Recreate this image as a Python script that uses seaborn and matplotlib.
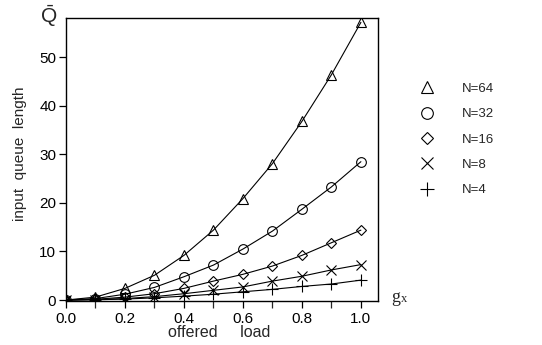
import numpy as np
import pandas as pd
import matplotlib
matplotlib.use("Agg")
import matplotlib.pyplot as plt
from matplotlib.lines import Line2D
import seaborn as sns

# offered load g_x and input queue length per switch size N
load = [0.0, 0.1, 0.2, 0.3, 0.4, 0.5, 0.6, 0.7, 0.8, 0.9, 1.0]
q_n64 = [0.0, 0.6, 2.4, 5.1, 9.2, 14.4, 20.9, 28.1, 36.8, 46.4, 57.2]
q_n32 = [0.0, 0.3, 1.2, 2.6, 4.8, 7.2, 10.5, 14.2, 18.7, 23.3, 28.5]
q_n16 = [0.0, 0.15, 0.6, 1.3, 2.4, 3.9, 5.3, 7.0, 9.2, 11.8, 14.4]
q_n8 = [0.0, 0.1, 0.3, 0.7, 1.3, 2.0, 2.7, 3.9, 4.9, 6.2, 7.3]
q_n4 = [0.0, 0.05, 0.2, 0.45, 0.8, 1.2, 1.7, 2.2, 2.8, 3.3, 4.1]

labels = ["N=64", "N=32", "N=16", "N=8", "N=4"]
series = [q_n64, q_n32, q_n16, q_n8, q_n4]
markers = ["^", "o", "D", "x", "+"]
msizes = [7, 7, 5.5, 7.5, 8]

sns.set_style("ticks")
plt.rcParams["font.family"] = ["Liberation Sans", "DejaVu Sans"]
plt.rcParams["mathtext.fontset"] = "custom"
plt.rcParams["mathtext.rm"] = "Liberation Sans"

fig = plt.figure(figsize=(5.42, 3.45), dpi=100)
ax = fig.add_axes([66 / 542, 1 - 301 / 345, 312 / 542, 283 / 345])

for vals, m, ms in zip(series, markers, msizes):
    sns.lineplot(x=load, y=vals, ax=ax, color="black", linewidth=0.8,
                 marker=m, markersize=ms, markerfacecolor="none",
                 markeredgecolor="black", markeredgewidth=0.8)

ax.set_xlim(0, 1.058)
ax.set_ylim(-0.2, 58.1)
ax.set_xticks([0.0, 0.2, 0.4, 0.6, 0.8, 1.0])
ax.set_xticklabels(["0.0", "0.2", "0.4", "0.6", "0.8", "1.0"])
ax.set_xticks(np.arange(0.1, 1.0, 0.2), minor=True)
ax.set_yticks([0, 10, 20, 30, 40, 50])
ax.tick_params(axis="both", which="major", direction="out", length=5,
               width=0.9, labelsize=11, color="black", labelcolor="black")
ax.tick_params(axis="x", which="minor", direction="out", length=5, width=0.9)
ax.tick_params(axis="y", pad=2)
ax.tick_params(axis="x", pad=3)
for s in ax.spines.values():
    s.set_visible(True)
    s.set_linewidth(1.0)
    s.set_color("black")

ax.set_ylabel("input  queue  length", fontsize=11)
ax.yaxis.set_label_coords(-0.125, 0.52)
ax.set_xlabel("offered     load", fontsize=11.5)
ax.xaxis.set_label_coords(0.49, -0.085)

fig.text(49 / 542, 1 - 16 / 345, r"$\bar{\mathrm{Q}}$", fontsize=15,
         ha="center", va="center")
fig.text(391 / 542, 1 - 297 / 345, "g", family="Liberation Serif",
         fontsize=13, ha="left", va="center")
fig.text(401 / 542, 1 - 299 / 345, "x", family="Liberation Serif",
         fontsize=9, ha="left", va="center")

handles = [Line2D([], [], linestyle="none", marker=m, markersize=ms * 1.2,
                  markerfacecolor="none", markeredgecolor="black",
                  markeredgewidth=0.8)
           for m, ms in zip(markers, msizes)]
fig.legend(handles, labels, loc="center left",
           bbox_to_anchor=(417 / 542, 1 - 139.5 / 345), frameon=False,
           fontsize=9.5, handlelength=1.5, handletextpad=1.9,
           labelspacing=1.0, borderpad=0, borderaxespad=0)

fig.savefig("out.png", dpi=100)
